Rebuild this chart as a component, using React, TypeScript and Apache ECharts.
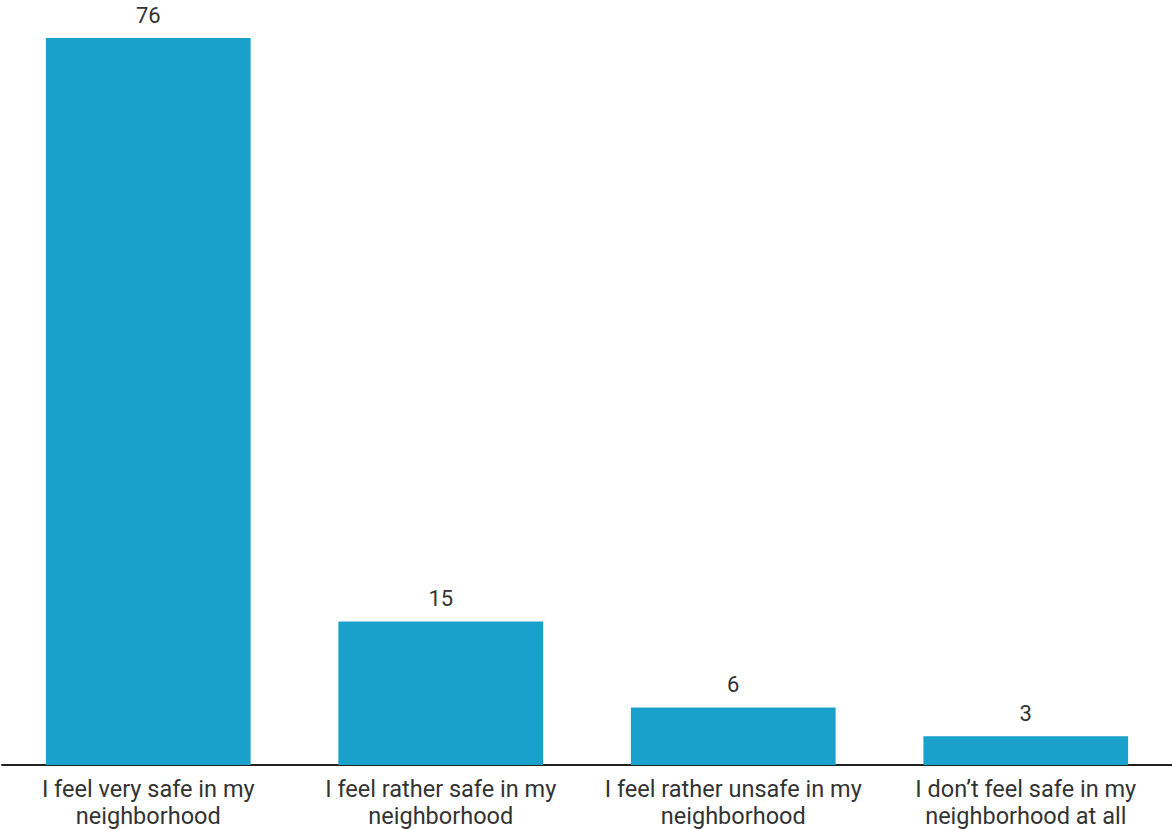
import React, { useEffect, useRef } from "react";
import * as echarts from "echarts";

const categories = [
  "I feel very safe in my\nneighborhood",
  "I feel rather safe in my\nneighborhood",
  "I feel rather unsafe in my\nneighborhood",
  "I don’t feel safe in my\nneighborhood at all",
];
const values = [76, 15, 6, 3];

export default function App() {
  const ref = useRef<HTMLDivElement>(null);
  useEffect(() => {
    document.body.style.margin = "0";
    const chart = echarts.init(ref.current!, null, { renderer: "svg" });
    chart.setOption({
      animation: false,
      textStyle: { fontFamily: "Roboto" },
      grid: { left: 2, right: 0, top: 38, bottom: 64, containLabel: false },
      xAxis: {
        type: "category",
        data: categories,
        axisTick: { show: false },
        axisLine: { show: true, lineStyle: { color: "#222", width: 2 } },
        axisLabel: {
          color: "#333",
          fontSize: 23.5,
          lineHeight: 27,
          margin: 10,
          interval: 0,
          fontFamily: "Roboto",
        },
      },
      yAxis: {
        type: "value",
        min: 0,
        max: 76,
        show: false,
        splitLine: { show: false },
      },
      series: [
        {
          type: "bar",
          data: values,
          barCategoryGap: "30%",
          itemStyle: { color: "#19a1cc" },
          label: {
            show: true,
            position: "top",
            distance: 12,
            color: "#333",
            fontSize: 22,
            fontFamily: "Roboto",
          },
        },
      ],
    });
    return () => chart.dispose();
  }, []);
  return <div ref={ref} style={{ width: 1172, height: 829 }} />;
}
